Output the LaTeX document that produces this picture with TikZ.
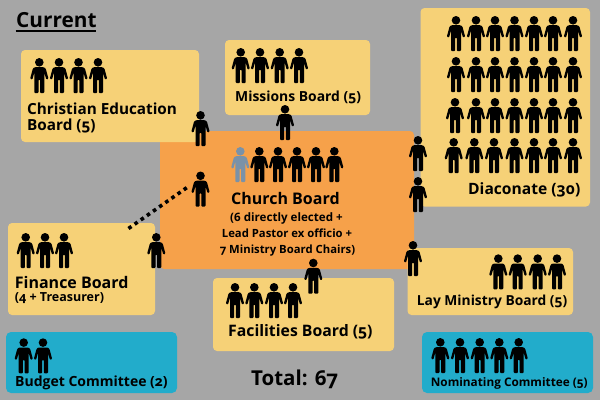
\documentclass[tikz,border=0pt]{standalone}
\usepackage{fontspec}
\setmainfont{Open Sans}[Numbers=OldStyle]
\definecolor{bggray}{HTML}{A6A6A6}
\definecolor{boardy}{HTML}{F6D177}
\definecolor{churcho}{HTML}{F6A14A}
\definecolor{commb}{HTML}{22ACCB}
\definecolor{pastorg}{HTML}{7A92A8}
\newcommand{\txt}[1]{\fontsize{#1}{#1}\selectfont\bfseries}
\newcommand{\personshape}[1]{%
    \fill[#1] (0,4.3) circle[radius=4.3];
    \fill[#1,rounded corners=0.9pt] (-4.6,9.2) -- (4.6,9.2) -- (6.4,10.4) -- (9.2,20.8) -- (7,21.6) -- (5,14.6) -- (5,35) -- (0.8,35) -- (0.8,21.5) -- (-0.8,21.5) -- (-0.8,35) -- (-5,35) -- (-5,14.6) -- (-7,21.6) -- (-9.2,20.8) -- (-6.4,10.4) -- cycle;
}
\tikzset{
  person/.pic={\personshape{black}},
  pastor/.pic={\personshape{pastorg}},
  boardbox/.style={fill=boardy,rounded corners=4pt},
  label/.style={anchor=base west,inner sep=0pt,text=black,align=left},
  clabel/.style={anchor=base,inner sep=0pt,text=black},
}
\begin{document}
\begin{tikzpicture}[x=1pt,y=-1pt]
\useasboundingbox (0,0) rectangle (600,400);
\fill[bggray] (0,0) rectangle (600,400);
% boxes
\fill[churcho,rounded corners=4pt] (160,131) rectangle (414,269);
\fill[boardbox] (21,50) rectangle (199,142);
\fill[boardbox] (225,40) rectangle (370,115);
\fill[boardbox] (420.5,8) rectangle (590,206.5);
\fill[boardbox] (8,223) rectangle (155,315);
\fill[boardbox] (213,278) rectangle (394,351);
\fill[boardbox] (407.5,248) rectangle (573,315);
\fill[commb,rounded corners=5pt] (6,332) rectangle (177,393);
\fill[commb,rounded corners=5pt] (422,332) rectangle (593,393);
% people
\foreach \x in {39.3,59,78.5,98} \pic at (\x,58) {person};
\foreach \x in {240.7,260,279.7,299} \pic at (\x,48) {person};
\pic at (240.3,147) {pastor};
\foreach \x in {259.3,278,297,316,334.3} \pic at (\x,147) {person};
\foreach \y in {16,57} \foreach \x in {456,476,495,514.5,534,553,573} \pic at (\x,\y) {person};
\foreach \x in {455,476,495,514.5,534,553,573} \pic at (\x,98) {person};
\foreach \x in {453.7,474.3,494,514.5,534,553,573} \pic at (\x,138) {person};
\foreach \x in {25.7,45,64} \pic at (\x,233) {person};
\foreach \x in {235,254.3,274,293} \pic at (\x,283) {person};
\foreach \x in {498.3,517.7,537.7,557} \pic at (\x,254.3) {person};
\foreach \x in {23.7,43} \pic at (\x,338.3) {person};
\foreach \x in {440.3,460,479.7,499.3,518.7} \pic at (\x,338) {person};
% link people
\pic at (200.5,111) {person};
\pic at (285,105) {person};
\pic at (200.5,171.5) {person};
\pic at (418,136) {person};
\pic at (418,177) {person};
\pic at (156.3,233) {person};
\pic at (313.3,258.7) {person};
\pic at (413,241) {person};
% dotted connector
\coordinate (dotA) at (128.5,228.5);
\coordinate (dotB) at (187,187.5);
\draw[black,line width=3.6pt,dash pattern=on 3.6pt off 3.9pt] (dotA) -- (dotB);
% text
\node[label,font=\txt{20.8}] (current) at (16,27) {Current};
\draw[black,line width=1.8pt] (15.5,31.3) -- (96,31.3);
\node[label,font=\txt{15.3}] (ce1) at (27,114.5) {Christian Education};
\node[label,font=\txt{15.3}] (ce2) at (27,130) {Board (5)};
\node[label,font=\txt{13.9}] (mis) at (235,101) {Missions Board (5)};
\node[label,font=\txt{16}] (cb) at (231,204) {Church Board};
\node[clabel,font=\txt{11.6}] (cb1) at (286.5,221) {(6 directly elected +};
\node[clabel,font=\txt{11.3}] (cb2) at (287,237) {Lead Pastor ex officio +};
\node[clabel,font=\txt{11.3}] (cb3) at (287.5,253) {7 Ministry Board Chairs)};
\node[label,font=\txt{15.6}] (dia) at (468,194) {Diaconate (30)};
\node[label,font=\txt{16}] (fin1) at (14.7,288.3) {Finance Board};
\node[label,font=\txt{12.5}] (fin2) at (14.7,301.7) {(4 + Treasurer)};
\node[label,font=\txt{15.8}] (fac) at (228,336.7) {Facilities Board (5)};
\node[label,font=\txt{13.8}] (lay) at (416.7,305) {Lay Ministry Board (5)};
\node[label,font=\txt{14}] (bud) at (15,386) {Budget Committee (2)};
\node[label,font=\txt{11.8}] (nom) at (430.7,386.7) {Nominating Committee (5)};
\node[label,font=\txt{20.5}] (tot) at (251,385) {Total: 67};
\end{tikzpicture}
\end{document}
